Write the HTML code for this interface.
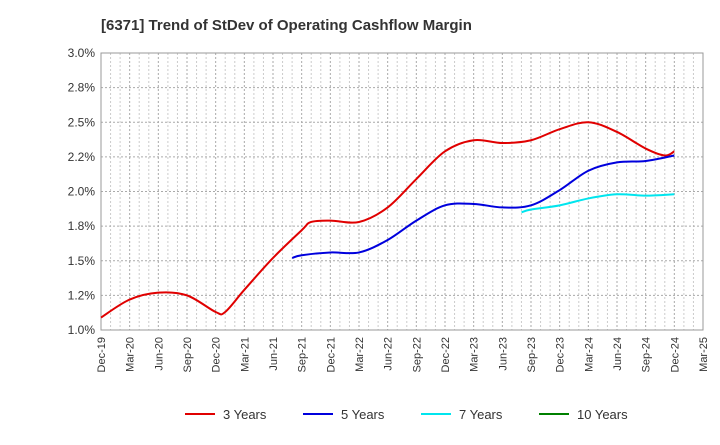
<!DOCTYPE html>
<html><head><meta charset="utf-8"><style>
body{margin:0;background:#fff;font-family:"Liberation Sans",Arial,sans-serif}
</style></head><body>
<svg id="chart" width="720" height="440" xmlns="http://www.w3.org/2000/svg" font-family="Liberation Sans, Arial, sans-serif">
<text x="101" y="30" font-size="15" font-weight="bold" fill="#333">[6371]  Trend of StDev of Operating Cashflow Margin</text>
<g id="grid"></g><g id="axes"></g><g id="series"></g><g id="legend"></g>
</svg>
<script>
const xLabels=["Dec-19","Mar-20","Jun-20","Sep-20","Dec-20","Mar-21","Jun-21","Sep-21","Dec-21","Mar-22","Jun-22","Sep-22","Dec-22","Mar-23","Jun-23","Sep-23","Dec-23","Mar-24","Jun-24","Sep-24","Dec-24","Mar-25"];
const yTicks=[1.0,1.25,1.5,1.75,2.0,2.25,2.5,2.75,3.0];
const yTickLabels=["1.0%","1.2%","1.5%","1.8%","2.0%","2.2%","2.5%","2.8%","3.0%"];
// quarter index (0 = Dec-19), value %
const s3x=[0,1,2,3,4,4.33,5,6,7,7.33,8,9,10,11,12,13,14,15,16,17,18,19,19.67,20];
const s3y=[1.09,1.22,1.27,1.25,1.13,1.13,1.29,1.52,1.72,1.78,1.79,1.78,1.885,2.09,2.29,2.37,2.35,2.37,2.45,2.50,2.43,2.31,2.26,2.29];
const s5x=[6.67,7,8,9,10,11,12,13,14,15,16,17,18,19,20];
const s5y=[1.52,1.54,1.56,1.56,1.65,1.79,1.90,1.91,1.885,1.90,2.01,2.15,2.21,2.22,2.26];
const s7x=[14.67,15,16,17,18,19,20];
const s7y=[1.85,1.87,1.90,1.95,1.98,1.97,1.98];
const s10x=[],s10y=[];
const NS="http://www.w3.org/2000/svg";
const X0=101,X1=703,Y0=330,Y1=53;
const xs=i=>X0+(X1-X0)*i/21;
const ys=v=>Y0-(v-1)/2*(Y0-Y1);
function mk(t,a,p){const e=document.createElementNS(NS,t);for(const k in a)e.setAttribute(k,a[k]);p.appendChild(e);return e;}
const grid=document.getElementById('grid'),axes=document.getElementById('axes');
xLabels.forEach((l,i)=>{
 const g=mk('line',{x1:xs(i),x2:xs(i),y1:Y1,y2:Y0,stroke:'#aaa','stroke-dasharray':'2,2'},grid);
 
 for(let k=1;k<3;k++){if(i<21){const m=mk('line',{x1:xs(i+k/3),x2:xs(i+k/3),y1:Y1,y2:Y0,stroke:'#ccc','stroke-dasharray':'2,2'},grid);
 }}
 const t=mk('text',{x:0,y:0,'font-size':11,fill:'#333','text-anchor':'end',transform:`translate(${xs(i)+4},${Y0+7}) rotate(-90)`},axes);
 t.textContent=l;
});
yTicks.forEach((v,i)=>{
 const g=mk('line',{x1:X0,x2:X1,y1:ys(v),y2:ys(v),stroke:'#aaa','stroke-dasharray':'2,2'},grid);
 
 const t=mk('text',{x:X0-6,y:ys(v)+4,'font-size':12,fill:'#333','text-anchor':'end'},axes);
 t.textContent=yTickLabels[i];
});
const fr=mk('rect',{x:X0,y:Y1,width:X1-X0,height:Y0-Y1,fill:'none',stroke:'#999'},axes);

function path(xa,ya){const p=xa.map((x,i)=>[xs(x),ys(ya[i])]);if(!p.length)return'';let d=`M${p[0][0]},${p[0][1]}`;
 for(let i=0;i<p.length-1;i++){const a=p[i-1]||p[i],b=p[i],c=p[i+1],e=p[i+2]||c;
 d+=` C${b[0]+(c[0]-a[0])/6},${b[1]+(c[1]-a[1])/6} ${c[0]-(e[0]-b[0])/6},${c[1]-(e[1]-b[1])/6} ${c[0]},${c[1]}`;}return d;}
const ser=document.getElementById('series');
[[s3x,s3y,'#e00000','line-3-years'],[s5x,s5y,'#0000dd','line-5-years'],[s7x,s7y,'#00e5ee','line-7-years'],[s10x,s10y,'#008000','line-10-years']].forEach(s=>{
 const e=mk('path',{d:path(s[0],s[1]),fill:'none',stroke:s[2],'stroke-width':2},ser);
 
});
const lg=document.getElementById('legend');
[['3 Years','#e00000',185],['5 Years','#0000dd',303],['7 Years','#00e5ee',421],['10 Years','#008000',539]].forEach(l=>{
 const g=mk('g',{},lg);
 mk('line',{x1:l[2],x2:l[2]+30,y1:414,y2:414,stroke:l[1],'stroke-width':2},g);
 const t=mk('text',{x:l[2]+38,y:419,'font-size':13,fill:'#333'},g);t.textContent=l[0];
});
</script>
</body></html>
